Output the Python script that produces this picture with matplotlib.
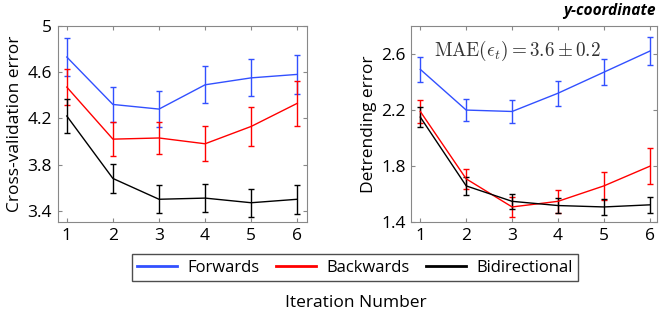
import matplotlib
matplotlib.use("Agg")
import matplotlib.pyplot as plt
from matplotlib.lines import Line2D

plt.rcParams['font.family'] = ['Open Sans', 'DejaVu Sans']
plt.rcParams['mathtext.fontset'] = 'cm'

iterations = [1, 2, 3, 4, 5, 6]

# cross-validation error (left panel)
cv_fwd = [4.73, 4.32, 4.28, 4.49, 4.55, 4.58]
cv_fwd_err = [0.165, 0.155, 0.155, 0.16, 0.16, 0.17]
cv_bwd = [4.47, 4.02, 4.03, 3.98, 4.13, 4.33]
cv_bwd_err = [0.155, 0.145, 0.14, 0.15, 0.165, 0.195]
cv_bi = [4.22, 3.68, 3.50, 3.51, 3.47, 3.50]
cv_bi_err = [0.145, 0.125, 0.12, 0.12, 0.12, 0.125]

# detrending error (right panel)
dt_fwd = [2.49, 2.20, 2.19, 2.32, 2.47, 2.62]
dt_fwd_err = [0.087, 0.08, 0.082, 0.088, 0.094, 0.10]
dt_bwd = [2.19, 1.71, 1.51, 1.55, 1.66, 1.80]
dt_bwd_err = [0.08, 0.072, 0.073, 0.08, 0.10, 0.13]
dt_bi = [2.15, 1.66, 1.55, 1.52, 1.51, 1.525]
dt_bi_err = [0.07, 0.063, 0.055, 0.055, 0.055, 0.058]

labels = ['Forwards', 'Backwards', 'Bidirectional']
colors = ['#3250ff', '#ff0000', '#000000']
FS = 12.5

fig = plt.figure(figsize=(6.62, 3.15), dpi=100)
ax1 = fig.add_axes([0.087, 0.294, 0.376, 0.624])
ax2 = fig.add_axes([0.621, 0.294, 0.371, 0.624])


def draw(ax, series, ylim, yticks, ylabel):
    for (vals, errs), lab, c in zip(series, labels, colors):
        ax.errorbar(iterations, vals, yerr=errs, color=c, lw=1.0,
                    elinewidth=1.0, capsize=2.5, capthick=1.0, label=lab)
    ax.set_xlim(0.8, 6.2)
    ax.set_ylim(*ylim)
    ax.set_xticks(iterations)
    ax.set_yticks(yticks)
    ax.set_yticklabels([('%g' % t) if t == 5 else ('%.1f' % t) for t in yticks])
    ax.tick_params(direction='in', length=3, color='#888888', labelsize=FS,
                   top=True, right=True, pad=4)
    for s in ax.spines.values():
        s.set_color('#888888')
        s.set_linewidth(0.8)
    ax.set_ylabel(ylabel, fontsize=FS, labelpad=3)


draw(ax1, [(cv_fwd, cv_fwd_err), (cv_bwd, cv_bwd_err), (cv_bi, cv_bi_err)],
     (3.3, 5.0), [3.4, 3.8, 4.2, 4.6, 5.0], 'Cross-validation error')
draw(ax2, [(dt_fwd, dt_fwd_err), (dt_bwd, dt_bwd_err), (dt_bi, dt_bi_err)],
     (1.4, 2.8), [1.4, 1.8, 2.2, 2.6], 'Detrending error')
ax2.set_xlim(0.8, 6.15)

ax2.text(0.433, 0.935, r'$\mathrm{MAE}(\epsilon_t) = 3.6 \pm 0.2$', transform=ax2.transAxes,
         ha='center', va='top', fontsize=13.8, color='#333333')
fig.text(0.991, 0.965, 'y-coordinate', ha='right', va='center', fontsize=11.2,
         fontweight='bold', fontstyle='italic')

handles = [Line2D([], [], color=c, lw=2.0) for c in colors]
leg = fig.legend(handles, labels, loc='center', bbox_to_anchor=(0.536, 0.15), ncol=3,
                 fontsize=12, frameon=True, fancybox=False, handlelength=2.4,
                 columnspacing=1.0, handletextpad=0.6, borderpad=0.32)
leg.get_frame().set_edgecolor('#222222')
leg.get_frame().set_linewidth(1.0)

fig.text(0.537, 0.038, 'Iteration Number', ha='center', va='center', fontsize=FS)

fig.savefig('out.png', dpi=100)
